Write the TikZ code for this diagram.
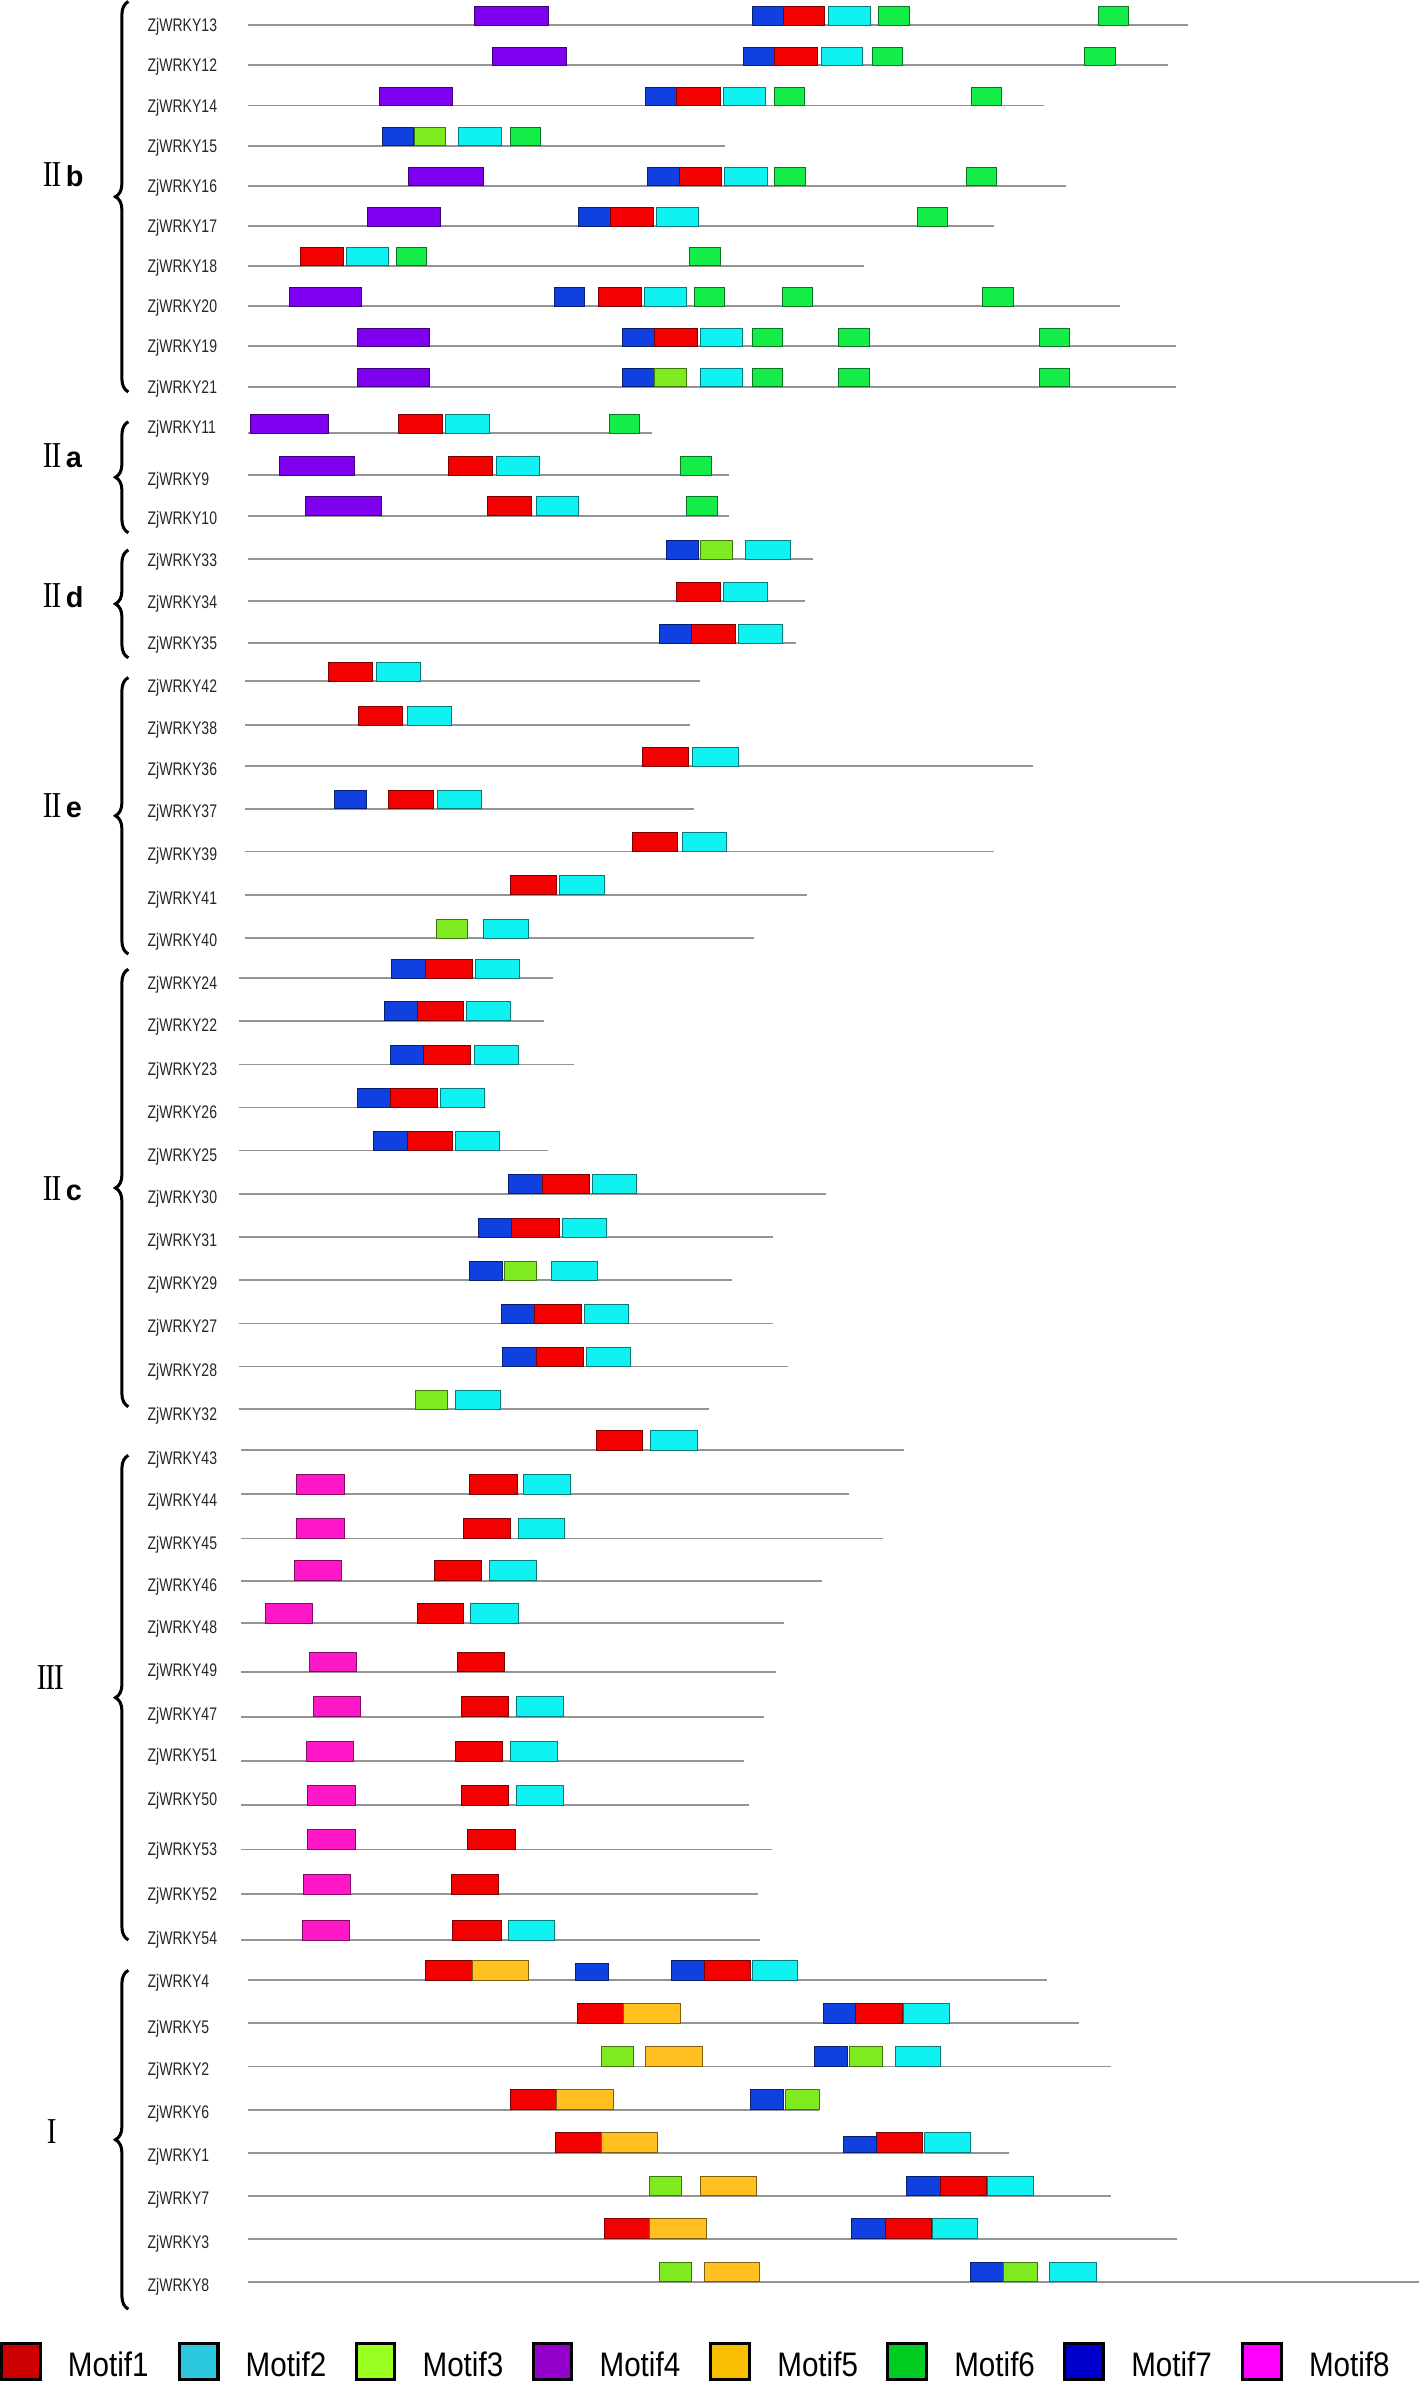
\documentclass[tikz,border=0pt]{standalone}
\usepackage{fontspec}
\setmainfont{Liberation Sans}
\newfontfamily\labfont[FakeStretch=0.77]{Liberation Sans}
\newfontfamily\legfont[FakeStretch=0.87]{Liberation Sans}
\newfontfamily\romfont[FakeStretch=0.8]{Liberation Serif}
\usetikzlibrary{decorations.pathreplacing}
\definecolor{cr}{HTML}{F50000}
\definecolor{cc}{HTML}{10F2F2}
\definecolor{cl}{HTML}{80EA20}
\definecolor{cp}{HTML}{7F00F0}
\definecolor{co}{HTML}{FFC020}
\definecolor{cg}{HTML}{14EC48}
\definecolor{cb}{HTML}{1040E0}
\definecolor{cm}{HTML}{FF18C8}
\definecolor{l1}{HTML}{CC0000}
\definecolor{l2}{HTML}{2CC8E0}
\definecolor{l3}{HTML}{99FF22}
\definecolor{l4}{HTML}{9400CC}
\definecolor{l5}{HTML}{F8BF00}
\definecolor{l6}{HTML}{00CC22}
\definecolor{l7}{HTML}{0000CC}
\definecolor{l8}{HTML}{FF00FF}
\tikzset{
  lab/.style={font={\labfont\fontsize{12}{12}\selectfont}, text=black!85, inner sep=0pt, anchor=base west},
  gline/.style={draw=black!42, line width=1.2},
  mbox/.style={fill=#1, draw=#1!50!black, line width=0.6},
  gbrace/.style={decorate, decoration={brace, amplitude=8.5, aspect=0.5}, line width=2, draw=black},
  grp/.style={inner sep=0pt, anchor=base west},
  legbox/.style={draw=black, line width=2},
  legtext/.style={font={\legfont\fontsize{22.4}{24}\selectfont}, inner sep=0pt, anchor=base west},
}
\newcommand\boxh{12}
\newcommand\wrow[6]{%
  \node[lab] (w#1) at (97,#2+4.3) {ZjWRKY#1};
  \draw[gline] (#4,#3) -- (#5,#3);
  \foreach \xa/\xb/\mc in {#6} {\draw[mbox=\mc] (\xa,#3) rectangle (\xb,#3-\boxh);}
}
\newcommand\romnum[1]{{\romfont\fontsize{24}{24}\selectfont #1}}
\newcommand\grplet[1]{{\bfseries\fontsize{19}{19}\selectfont #1}}
\begin{document}
\begin{tikzpicture}[x=1pt,y=-1pt]
\useasboundingbox (0,0) rectangle (934,1568);
% ---------- IIb ----------
\renewcommand\boxh{12}
\wrow{13}{16.5}{16.5}{163}{782}{312/361/cp,495/515.5/cb,515.5/543/cr,545.5/573/cc,578.5/598.5/cg,723/743/cg}
\wrow{12}{43}{43}{163}{769}{324/373/cp,489.5/510/cb,510/538/cr,541/568/cc,574/594/cg,714/734/cg}
\wrow{14}{69.5}{69.5}{163}{687}{250/298/cp,425/445.5/cb,445.5/474/cr,476/504/cc,509.5/529.5/cg,639.5/659.5/cg}
\wrow{15}{96}{96}{163}{477}{252/272/cb,273/293/cl,302/330/cc,336/356/cg}
\wrow{16}{122.3}{122.3}{163}{702}{269/318/cp,426/447/cb,447/475/cr,477/505/cc,510/530/cg,636/656/cg}
\wrow{17}{148.8}{148.8}{163}{654}{242/290/cp,381/402/cb,402/430/cr,432/460/cc,604/624/cg}
\wrow{18}{175}{175}{163}{569}{198/226/cr,228/256/cc,261/281/cg,454/474/cg}
\wrow{20}{201.5}{201.5}{163}{737}{190.5/238/cp,365/385/cb,394/422/cr,424/452/cc,457/477/cg,515/535/cg,647/667/cg}
\wrow{19}{228}{228}{163}{774}{235/283/cp,410/431/cb,431/459/cr,461/489/cc,495/515/cg,552/572/cg,684/704/cg}
\wrow{21}{254.5}{254.5}{163}{774}{235/283/cp,410/431/cb,431/452/cl,461/489/cc,495/515/cg,552/572/cg,684/704/cg}
% ---------- IIa ----------
\renewcommand\boxh{12.5}
\wrow{11}{281}{285}{163}{429}{165/216/cp,262/291/cr,293/322/cc,401/421/cg}
\wrow{9}{315}{312.7}{163}{480}{184/233/cp,295/324/cr,327/355/cc,448/468/cg}
\wrow{10}{341}{339.5}{163}{480}{201/251/cp,321/350/cr,353/381/cc,452/472/cg}
% ---------- IId ----------
\wrow{33}{368.5}{368.2}{163}{535}{439/460/cb,461/482/cl,491/520/cc}
\wrow{34}{396}{395.6}{163}{530}{445/474/cr,476/505/cc}
\wrow{35}{423.5}{423.5}{163}{524}{434/455/cb,455/484/cr,486/515/cc}
% ---------- IIe ----------
\wrow{42}{451.5}{448.3}{161}{461}{216/245/cr,248/277/cc}
\wrow{38}{479}{477.5}{161}{454}{236/265/cr,268/297/cc}
\wrow{36}{506.5}{504.5}{161}{680}{423/453/cr,456/486/cc}
\wrow{37}{534}{532.5}{161}{457}{220/241/cb,256/285/cr,288/317/cc}
\wrow{39}{562}{560.5}{161}{654}{416/446/cr,449/478/cc}
\wrow{41}{591}{589}{161}{531}{336/366/cr,368/398/cc}
\wrow{40}{619}{617.5}{161}{496}{287/308/cl,318/348/cc}
% ---------- IIc ----------
\wrow{24}{647}{644}{157}{364}{258/280/cb,280/311/cr,313/342/cc}
\wrow{22}{675}{672}{157}{358}{253/275/cb,275/305/cr,307/336/cc}
\wrow{23}{703.8}{700.7}{157}{378}{257/279/cb,279/310/cr,312/341/cc}
\wrow{26}{731.8}{729}{157}{320}{235.5/257/cb,257/288/cr,290/319/cc}
\wrow{25}{760.3}{757.3}{157}{361}{246/268/cb,268/298/cr,300/329/cc}
\wrow{30}{787.8}{785.8}{157}{544}{335/357/cb,357/388/cr,390/419/cc}
\wrow{31}{816.3}{814.3}{157}{509}{315/337/cb,337/368/cr,370/399/cc}
\wrow{29}{844.8}{842.7}{157}{482}{309/331/cb,332/353/cl,363/393/cc}
\wrow{27}{873}{871.2}{157}{509}{330/352/cb,352/383/cr,385/414/cc}
\wrow{28}{902}{899.5}{157}{519}{331/353/cb,353/384/cr,386/415/cc}
\wrow{32}{930.5}{927.5}{157}{466.5}{273.5/294.5/cl,300/329.5/cc}
% ---------- III ----------
\renewcommand\boxh{13}
\wrow{43}{959.4}{954.6}{158.5}{595}{392.7/423/cr,428/459/cc}
\wrow{44}{987.5}{983.7}{158.5}{559}{195/226.5/cm,309/340.4/cr,344.5/375.8/cc}
\wrow{45}{1015.5}{1012.7}{158.5}{581.5}{195/226.5/cm,305/336/cr,341/371.3/cc}
\wrow{46}{1043}{1040.5}{158.5}{541}{194/225/cm,286/317/cr,322/353/cc}
\wrow{48}{1071}{1068.5}{158.5}{516}{175/206/cm,275/305/cr,310/341/cc}
\wrow{49}{1099.4}{1100.5}{158.5}{511}{204/234.8/cm,301/332/cr}
\wrow{47}{1128}{1130}{158.5}{503}{206.3/237/cm,304/335/cr,340/371/cc}
\wrow{51}{1155.4}{1159.3}{158.5}{490}{202/232.6/cm,300/331/cr,336/367/cc}
\wrow{50}{1184.4}{1188.3}{158.5}{493}{202.6/234.1/cm,304/335/cr,340/371/cc}
\wrow{53}{1216.8}{1217.5}{158.5}{508}{202.6/234.1/cm,308/339/cr}
\wrow{52}{1246.4}{1247}{158.5}{499}{199.5/230.9/cm,297/328/cr}
\wrow{54}{1275.4}{1277}{158.5}{500}{198.8/230.2/cm,298/330/cr,335/365/cc}
% ---------- I ----------
\wrow{4}{1304}{1303.5}{163}{689}{280/310.7/cr,310.7/347.6/co,442/464/cb,464/494.3/cr,495.3/525/cc}
\draw[mbox=cb] (378.7,1303.5) rectangle (400.2,1292.5);
\wrow{5}{1334}{1331.8}{163}{710}{380.3/410.4/cr,410.4/447.8/co,541.8/563.3/cb,563.3/594/cr,595/625.2/cc}
\wrow{2}{1362}{1360.3}{163}{731.5}{395.6/417/cl,424.8/462.6/co,536.2/557.7/cb,559.2/581.2/cl,589.4/619/cc}
\wrow{6}{1390}{1388.7}{163}{539.3}{335.8/366/cr,366/403.8/co,493.8/515.8/cb,517.3/539.3/cl}
\wrow{1}{1418.7}{1417}{163}{664}{365.5/395.6/cr,395.6/433/co,577.1/607.3/cr,608.3/638.5/cc}
\draw[mbox=cb] (555.1,1417) rectangle (577.1,1406.3);
\wrow{7}{1447}{1445.5}{163}{731.5}{427.3/448.8/cl,461/497.9/co,596.5/619/cb,619/649.2/cr,650.2/680.4/cc}
\wrow{3}{1475.8}{1473.6}{163}{775}{397.7/427.8/cr,427.8/465.2/co,560.2/582.7/cb,582.7/613.4/cr,613.9/643.6/cc}
\wrow{8}{1504.3}{1502}{163}{934}{434/455.4/cl,463.6/499.9/co,638.5/660.4/cb,660.4/683/cl,691.1/721.8/cc}
% ---------- braces ----------
\draw[gbrace] (84.5,258) -- (84.5,1);
\draw[gbrace] (84.5,350.7) -- (84.5,277.6);
\draw[gbrace] (84.5,433) -- (84.5,362);
\draw[gbrace] (84.5,628) -- (84.5,446);
\draw[gbrace] (84.5,926) -- (84.5,638);
\draw[gbrace] (84.5,1277) -- (84.5,958);
\draw[gbrace] (84.5,1520) -- (84.5,1297);
% ---------- group labels ----------
\node[grp] (gIIb) at (28,123) {\romnum{I\kern-0.7pt I}\hspace{3pt}\grplet{b}};
\node[grp] (gIIa) at (28,308) {\romnum{I\kern-0.7pt I}\hspace{3pt}\grplet{a}};
\node[grp] (gIId) at (28,400) {\romnum{I\kern-0.7pt I}\hspace{3pt}\grplet{d}};
\node[grp] (gIIe) at (28,538) {\romnum{I\kern-0.7pt I}\hspace{3pt}\grplet{e}};
\node[grp] (gIIc) at (28,790) {\romnum{I\kern-0.7pt I}\hspace{3pt}\grplet{c}};
\node[grp] (gIII) at (24,1112) {\romnum{I\kern-0.7pt I\kern-0.7pt I}};
\node[grp] (gI) at (30.7,1411) {\romnum{I}};
% ---------- legend ----------
\foreach \i/\xx in {1/0,2/117,3/233.5,4/350,5/467,6/583.5,7/700,8/817} {
  \draw[legbox, fill=l\i] (\xx+1,1542.5) rectangle (\xx+26.5,1566.5);
  \node[legtext] (leg\i) at (\xx+44.5,1564.6) {Motif\i};
}
\end{tikzpicture}
\end{document}
